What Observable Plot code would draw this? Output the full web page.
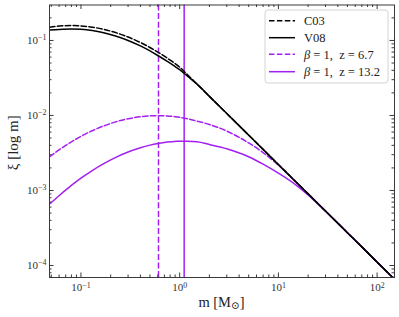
<!DOCTYPE html>
<html>
<head>
<meta charset="utf-8">
<script src="https://cdn.jsdelivr.net/npm/d3@7"></script>
<script src="https://cdn.jsdelivr.net/npm/@observablehq/plot@0.6"></script>
<style>
  html, body { margin: 0; padding: 0; background: #fff; }
  svg { display: block; }
</style>
</head>
<body>
<div id="chart"></div>
<script>
// ---- data ----
const masses = [0.048, 0.06, 0.08, 0.1, 0.13, 0.17, 0.22, 0.3, 0.4, 0.5, 0.6, 0.75, 0.9, 1.0, 1.2, 1.5, 2, 3, 5, 7, 10, 15, 20, 30, 50, 70, 100, 150];
const c03  = [0.1504, 0.1556, 0.158, 0.1563, 0.1505, 0.1407, 0.1284, 0.1111, 0.0939, 0.0806, 0.0700, 0.0580, 0.0490, 0.0441, 0.03495, 0.02615, 0.01799, 0.01062, 0.00547, 0.00353, 0.00222, 0.001311, 0.000902, 0.000532, 0.000274, 0.000177, 0.000111, 0.0000656];
const v08  = [0.138, 0.1405, 0.1422, 0.1407, 0.1355, 0.1266, 0.1156, 0.1000, 0.0845, 0.0725, 0.0630, 0.0525, 0.0448, 0.0408, 0.0334, 0.02615, 0.01799, 0.01062, 0.00547, 0.00353, 0.00222, 0.001311, 0.000902, 0.000532, 0.000274, 0.000177, 0.000111, 0.0000656];
const z67  = [0.00281, 0.00348, 0.00445, 0.00527, 0.00626, 0.00726, 0.00815, 0.00905, 0.00963, 0.00988, 0.00995, 0.00985, 0.00963, 0.00945, 0.00905, 0.0084, 0.0076, 0.0062, 0.0043, 0.0032, 0.00217, 0.00130, 0.000902, 0.000532, 0.000274, 0.000177, 0.000111, 0.0000656];
const z132 = [0.00066, 0.000852, 0.001167, 0.001457, 0.001843, 0.00228, 0.002724, 0.003257, 0.003716, 0.004024, 0.004231, 0.00442, 0.004514, 0.00454, 0.00454, 0.00446, 0.0041, 0.0036, 0.00282, 0.00224, 0.0017, 0.00119, 0.00087, 0.000528, 0.000274, 0.000177, 0.000111, 0.0000656];
const critMass = [0.61, 1.11];          // vertical markers (z = 6.7, z = 13.2)
const legendLabels = ["C03", "V08", "β = 1,  z = 6.7", "β = 1,  z = 13.2"];
const xMajor = [0.1, 1, 10, 100];
const yMajor = [1e-4, 1e-3, 1e-2, 1e-1];
const yLabel = "ξ [log m]";

// ---- layout ----
const W = 399, H = 317;
const mL = 49, mR = 5, mT = 4.5, mB = 40;
const innerH = H - mT - mB;
const innerW = W - mL - mR;
const xDomain = [0.048, 150];
const yDomain = [6.92e-5, 0.297];
const purple = "#a31ff2";
const axisColor = "#3a3a3a";
const dash = "5.5,2.4";

const rows = masses.map((m, i) => ({m, c03: c03[i], v08: v08[i], z67: z67[i], z132: z132[i]}));

function minorTicks(domain) {
  const out = [];
  const lo = Math.floor(Math.log10(domain[0])), hi = Math.ceil(Math.log10(domain[1]));
  for (let e = lo; e <= hi; e++) for (let k = 2; k <= 9; k++) {
    const v = k * Math.pow(10, e);
    if (v >= domain[0] && v <= domain[1]) out.push(v);
  }
  return out;
}
const xMinor = minorTicks(xDomain), yMinor = minorTicks(yDomain);
const fmt = d => "10|" + Math.round(Math.log10(d));
const majLen = 4.5, minLen = 2.5;

const plot = Plot.plot({
  width: W, height: H,
  marginLeft: mL, marginRight: mR, marginTop: mT, marginBottom: mB,
  style: {fontFamily: "'Liberation Serif', 'DejaVu Serif', serif", fontSize: "11px", color: "#333", background: "#fff", overflow: "visible"},
  x: {type: "log", domain: xDomain},
  y: {type: "log", domain: yDomain},
  marks: [
    Plot.line(rows, {x: "m", y: "z132", stroke: purple, strokeWidth: 1.5, curve: "monotone-x", clip: true}),
    Plot.line(rows, {x: "m", y: "z67", stroke: purple, strokeWidth: 1.5, strokeDasharray: dash, curve: "monotone-x", clip: true}),
    Plot.ruleX([critMass[0]], {x: d => d, stroke: purple, strokeWidth: 1.5, strokeDasharray: "6,2.6"}),
    Plot.ruleX([critMass[1]], {x: d => d, stroke: purple, strokeWidth: 1.5}),
    Plot.line(rows, {x: "m", y: "v08", stroke: "#000", strokeWidth: 1.5, curve: "monotone-x", clip: true}),
    Plot.line(rows, {x: "m", y: "c03", stroke: "#000", strokeWidth: 1.5, strokeDasharray: dash, curve: "monotone-x", clip: true}),
    // inward ticks on all four sides
    Plot.tickX(xMajor, {x: d => d, insetTop: innerH - majLen, stroke: axisColor}),
    Plot.tickX(xMajor, {x: d => d, insetBottom: innerH - majLen, stroke: axisColor}),
    Plot.tickX(xMinor, {x: d => d, insetTop: innerH - minLen, stroke: axisColor}),
    Plot.tickX(xMinor, {x: d => d, insetBottom: innerH - minLen, stroke: axisColor}),
    Plot.tickY(yMajor, {y: d => d, insetRight: innerW - majLen, stroke: axisColor}),
    Plot.tickY(yMajor, {y: d => d, insetLeft: innerW - majLen, stroke: axisColor}),
    Plot.tickY(yMinor, {y: d => d, insetRight: innerW - minLen, stroke: axisColor}),
    Plot.tickY(yMinor, {y: d => d, insetLeft: innerW - minLen, stroke: axisColor}),
    Plot.frame({stroke: axisColor, strokeWidth: 1}),
    Plot.axisX({ticks: xMajor, tickSize: 0, tickPadding: 6, tickFormat: fmt, label: null, anchor: "bottom"}),
    Plot.axisY({ticks: yMajor, tickSize: 0, tickPadding: 3, tickFormat: fmt, label: null, anchor: "left"})
  ]
});

// superscript tick labels
plot.querySelectorAll('g[aria-label$="tick label"] text').forEach(t => {
  const txt = t.textContent;
  if (!txt.includes("|")) return;
  const [base, exp] = txt.split("|");
  t.textContent = "";
  const s = d3.select(t);
  s.append("tspan").text(base);
  s.append("tspan").attr("dy", "-0.48em").attr("font-size", "0.72em").text(exp.replace("-", "−"));
});

const svg = d3.select(plot);
const font = "'Liberation Serif', 'DejaVu Serif', serif";

// axis titles
const xl = svg.append("text").attr("x", mL + innerW / 2).attr("y", 306.5)
  .attr("text-anchor", "middle").attr("font-family", font).attr("font-size", 14.5).attr("fill", "#222");
xl.append("tspan").text("m [M");
xl.append("tspan").attr("font-size", "0.72em").attr("dy", "0.25em").text("⊙");
xl.append("tspan").attr("dy", "-0.18em").text("]");

svg.append("text").attr("transform", `translate(13,${mT + innerH / 2 + 2}) rotate(-90)`)
  .attr("text-anchor", "middle").attr("dominant-baseline", "central")
  .attr("font-family", font).attr("font-size", 15).attr("fill", "#222")
  .text(yLabel);

// legend
const lg = svg.append("g").attr("text-anchor", "start");
lg.append("rect").attr("x", 265).attr("y", 10).attr("width", 123).attr("height", 73)
  .attr("rx", 3).attr("fill", "#fff").attr("fill-opacity", 0.85).attr("stroke", "#d4d4d4").attr("stroke-width", 1);
const styles = [
  {stroke: "#000", dash: dash},
  {stroke: "#000", dash: null},
  {stroke: purple, dash: dash},
  {stroke: purple, dash: null}
];
const rowY = [20.7, 37.7, 54.3, 71.7];
legendLabels.forEach((lab, i) => {
  const st = styles[i];
  const ln = lg.append("line").attr("x1", 269).attr("x2", 295).attr("y1", rowY[i]).attr("y2", rowY[i])
    .attr("stroke", st.stroke).attr("stroke-width", 1.5);
  if (st.dash) ln.attr("stroke-dasharray", st.dash);
  const tx = lg.append("text").attr("x", 304).attr("y", rowY[i] + 4.2).attr("text-anchor", "start")
    .attr("font-family", font).attr("font-size", 12.5).attr("fill", "#222");
  if (lab.startsWith("β")) {
    tx.append("tspan").attr("font-style", "italic").text("β");
    tx.append("tspan").text(lab.slice(1));
  } else {
    tx.text(lab);
  }
});

document.getElementById("chart").appendChild(plot);
</script>
</body>
</html>
